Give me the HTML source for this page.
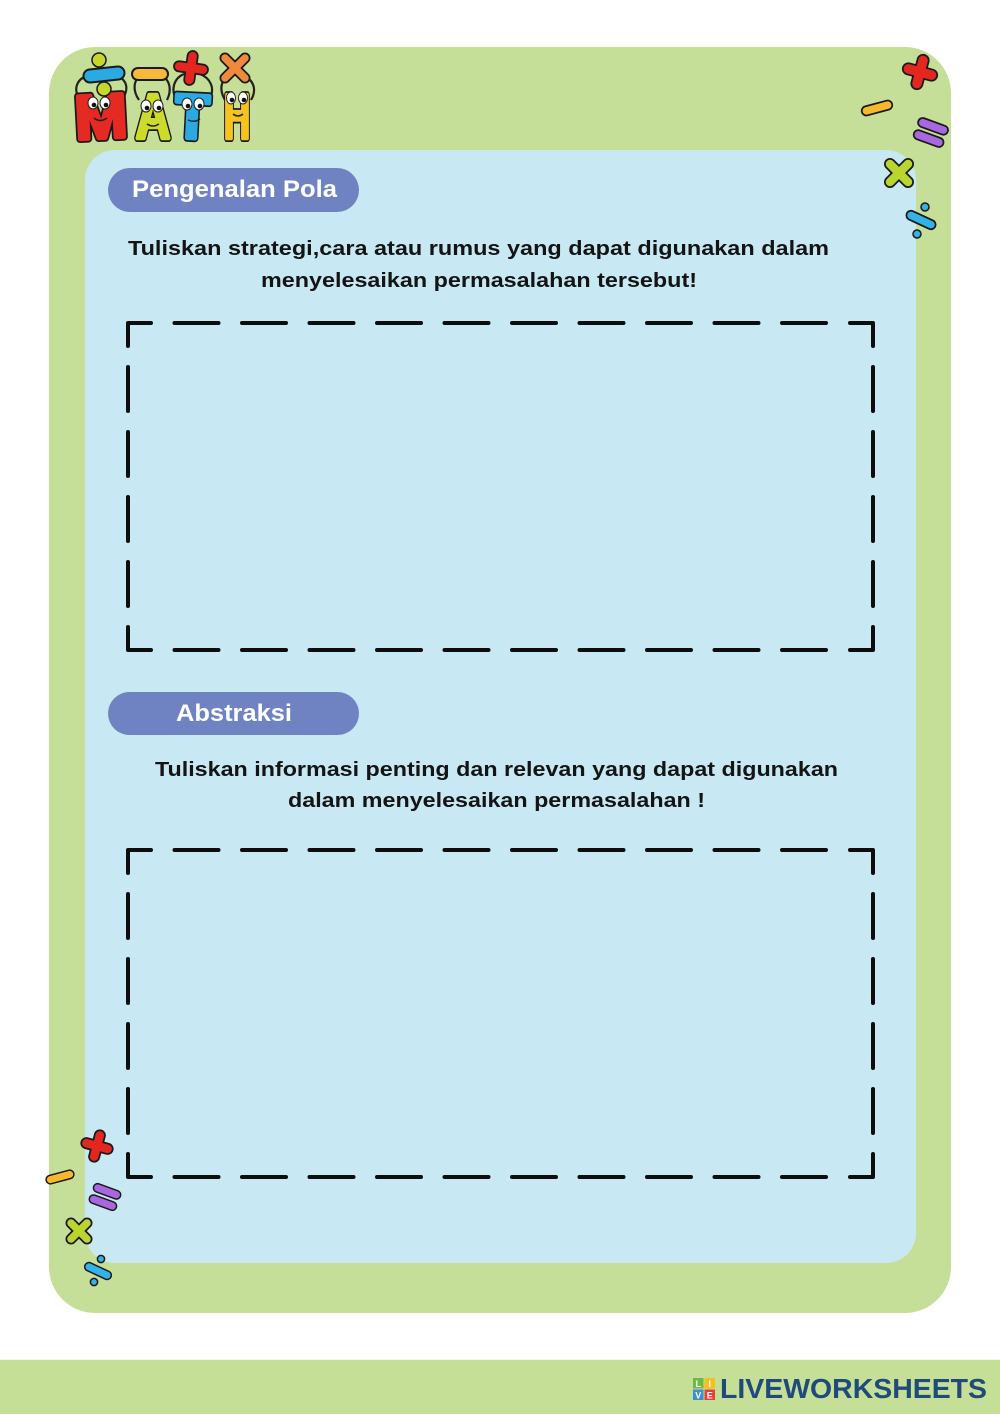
<!DOCTYPE html>
<html>
<head>
<meta charset="utf-8">
<style>
html,body{margin:0;padding:0;background:#fff;}
svg{display:block;}
</style>
</head>
<body>
<svg width="1000" height="1414" viewBox="0 0 1000 1414" xmlns="http://www.w3.org/2000/svg">
  <rect x="0" y="0" width="1000" height="1414" fill="#ffffff"/>
  <!-- outer green card -->
  <rect x="49" y="47" width="902" height="1266" rx="46" ry="46" fill="#c5df98"/>
  <!-- inner blue panel -->
  <rect x="85" y="150" width="831" height="1113" rx="30" ry="30" fill="#c8e9f3"/>

  <!-- pills -->
  <rect x="108" y="168" width="251" height="44" rx="22" ry="22" fill="#6f83c3"/>
  <text x="132" y="197" font-family="Liberation Sans, sans-serif" font-weight="bold" font-size="24" fill="#ffffff" textLength="205" lengthAdjust="spacingAndGlyphs">Pengenalan Pola</text>

  <rect x="108" y="692" width="251" height="43" rx="21.5" ry="21.5" fill="#6f83c3"/>
  <text x="176" y="721" font-family="Liberation Sans, sans-serif" font-weight="bold" font-size="24" fill="#ffffff" textLength="116" lengthAdjust="spacingAndGlyphs">Abstraksi</text>

  <!-- instruction text -->
  <g font-family="Liberation Sans, sans-serif" font-weight="bold" font-size="20" fill="#141414">
    <text x="128" y="255" textLength="701" lengthAdjust="spacingAndGlyphs">Tuliskan strategi,cara atau rumus yang dapat digunakan dalam</text>
    <text x="261" y="287" textLength="436" lengthAdjust="spacingAndGlyphs">menyelesaikan permasalahan tersebut!</text>
    <text x="155" y="776" textLength="683" lengthAdjust="spacingAndGlyphs">Tuliskan informasi penting dan relevan yang dapat digunakan</text>
    <text x="288" y="807" textLength="417" lengthAdjust="spacingAndGlyphs">dalam menyelesaikan permasalahan !</text>
  </g>

  <!-- dashed box 1 -->
  <g stroke="#0d0d0d" stroke-width="4" stroke-linecap="round" stroke-linejoin="round" fill="none">
    <path d="M128,346 L128,323 L151,323"/>
    <path d="M850,323 L873,323 L873,346"/>
    <path d="M128,627 L128,650 L151,650"/>
    <path d="M850,650 L873,650 L873,627"/>
    <line x1="174.5" y1="323" x2="826.5" y2="323" stroke-dasharray="44 23.5"/>
    <line x1="174.5" y1="650" x2="826.5" y2="650" stroke-dasharray="44 23.5"/>
    <line x1="128" y1="367" x2="128" y2="606" stroke-dasharray="44 21"/>
    <line x1="873" y1="367" x2="873" y2="606" stroke-dasharray="44 21"/>
  </g>
  <!-- dashed box 2 -->
  <g stroke="#0d0d0d" stroke-width="4" stroke-linecap="round" stroke-linejoin="round" fill="none" transform="translate(0,527)">
    <path d="M128,346 L128,323 L151,323"/>
    <path d="M850,323 L873,323 L873,346"/>
    <path d="M128,627 L128,650 L151,650"/>
    <path d="M850,650 L873,650 L873,627"/>
    <line x1="174.5" y1="323" x2="826.5" y2="323" stroke-dasharray="44 23.5"/>
    <line x1="174.5" y1="650" x2="826.5" y2="650" stroke-dasharray="44 23.5"/>
    <line x1="128" y1="367" x2="128" y2="606" stroke-dasharray="44 21"/>
    <line x1="873" y1="367" x2="873" y2="606" stroke-dasharray="44 21"/>
  </g>

  <!-- MATH logo -->
  <g>
    <!-- arms -->
    <g stroke="#222" stroke-width="2.2" fill="none">
      <path d="M80,100 C72,88 78,78 88,76"/>
      <path d="M122,100 C130,88 126,80 118,76"/>
      <path d="M139,100 C132,90 134,80 140,76"/>
      <path d="M167,100 C172,90 170,80 162,76"/>
      <path d="M177,100 C170,90 174,78 184,74"/>
      <path d="M209,100 C216,88 210,78 200,74"/>
      <path d="M225,100 C218,88 222,78 230,76"/>
      <path d="M251,100 C258,88 252,78 242,76"/>
    </g>
    <!-- letters: black outline layer -->
    <g font-family="Liberation Sans, sans-serif" font-weight="bold" font-size="62" stroke="#1a1a1a" stroke-width="8" stroke-linejoin="round" fill="#1a1a1a">
      <text x="75" y="138" textLength="52" lengthAdjust="spacingAndGlyphs" transform="rotate(-3 100 118)">M</text>
      <text x="136" y="138" textLength="34" lengthAdjust="spacingAndGlyphs">A</text>
      <text x="175" y="138" textLength="34" lengthAdjust="spacingAndGlyphs" transform="rotate(3 192 118)">T</text>
      <text x="224" y="138" textLength="26" lengthAdjust="spacingAndGlyphs">H</text>
    </g>
    <!-- letters: colour layer -->
    <g font-family="Liberation Sans, sans-serif" font-weight="bold" font-size="62" stroke-width="4.5" stroke-linejoin="round">
      <text x="75" y="138" fill="#e52a24" stroke="#e52a24" textLength="52" lengthAdjust="spacingAndGlyphs" transform="rotate(-3 100 118)">M</text>
      <text x="136" y="138" fill="#cddb2a" stroke="#cddb2a" textLength="34" lengthAdjust="spacingAndGlyphs">A</text>
      <text x="175" y="138" fill="#2aa9e2" stroke="#2aa9e2" textLength="34" lengthAdjust="spacingAndGlyphs" transform="rotate(3 192 118)">T</text>
      <text x="224" y="138" fill="#f6c21e" stroke="#f6c21e" textLength="26" lengthAdjust="spacingAndGlyphs">H</text>
    </g>
    <!-- eyes -->
    <g stroke="#222" stroke-width="1">
      <ellipse cx="93" cy="103" rx="5" ry="6" fill="#fff"/><ellipse cx="105" cy="103" rx="5" ry="6" fill="#fff"/>
      <ellipse cx="146" cy="106" rx="5" ry="6" fill="#fff"/><ellipse cx="158" cy="106" rx="5" ry="6" fill="#fff"/>
      <ellipse cx="187" cy="104" rx="5" ry="6" fill="#fff"/><ellipse cx="199" cy="104" rx="5" ry="6" fill="#fff"/>
      <ellipse cx="231" cy="98" rx="4.5" ry="6" fill="#fff"/><ellipse cx="243" cy="98" rx="4.5" ry="6" fill="#fff"/>
    </g>
    <g fill="#111">
      <circle cx="94" cy="105" r="2.3"/><circle cx="106" cy="105" r="2.3"/>
      <circle cx="147" cy="108" r="2.3"/><circle cx="159" cy="108" r="2.3"/>
      <circle cx="188" cy="106" r="2.3"/><circle cx="200" cy="106" r="2.3"/>
      <circle cx="232" cy="100" r="2.3"/><circle cx="244" cy="100" r="2.3"/>
    </g>
    <!-- mouths -->
    <g stroke="#222" stroke-width="1.5" fill="none">
      <path d="M94,118 Q100,123 107,118"/>
      <path d="M147,124 Q153,128 159,124"/>
      <path d="M188,120 Q194,123 200,119"/>
      <path d="M233,114 Q238,118 243,114"/>
    </g>
    <!-- divide -->
    <line x1="90" y1="76" x2="118" y2="73" stroke="#1a1a1a" stroke-width="15" stroke-linecap="round"/>
    <line x1="90" y1="76" x2="118" y2="73" stroke="#2aa9e2" stroke-width="11" stroke-linecap="round"/>
    <circle cx="99" cy="60" r="7" fill="#c7d62b" stroke="#1a1a1a" stroke-width="1.5"/>
    <circle cx="104" cy="89" r="7" fill="#c7d62b" stroke="#1a1a1a" stroke-width="1.5"/>
    <!-- minus -->
    <line x1="138" y1="74" x2="162" y2="74" stroke="#1a1a1a" stroke-width="14" stroke-linecap="round"/>
    <line x1="138" y1="74" x2="162" y2="74" stroke="#f6b93a" stroke-width="10" stroke-linecap="round"/>
    <!-- plus -->
    <g transform="translate(191,68) rotate(8)">
      <line x1="-12" y1="0" x2="12" y2="0" stroke="#1a1a1a" stroke-width="12" stroke-linecap="round"/>
      <line x1="0" y1="-12" x2="0" y2="12" stroke="#1a1a1a" stroke-width="12" stroke-linecap="round"/>
      <line x1="-12" y1="0" x2="12" y2="0" stroke="#e3261f" stroke-width="8.5" stroke-linecap="round"/>
      <line x1="0" y1="-12" x2="0" y2="12" stroke="#e3261f" stroke-width="8.5" stroke-linecap="round"/>
    </g>
    <!-- times -->
    <g transform="translate(235,68)">
      <line x1="-10" y1="-10" x2="10" y2="10" stroke="#1a1a1a" stroke-width="11" stroke-linecap="round"/>
      <line x1="10" y1="-10" x2="-10" y2="10" stroke="#1a1a1a" stroke-width="11" stroke-linecap="round"/>
      <line x1="-10" y1="-10" x2="10" y2="10" stroke="#f0893c" stroke-width="7.5" stroke-linecap="round"/>
      <line x1="10" y1="-10" x2="-10" y2="10" stroke="#f0893c" stroke-width="7.5" stroke-linecap="round"/>
    </g>
  </g>

  <!-- decorations top-right -->
  <g>
    <g transform="translate(920,72) rotate(15)">
      <line x1="-12" y1="0" x2="12" y2="0" stroke="#1a1a1a" stroke-width="13" stroke-linecap="round"/>
      <line x1="0" y1="-12" x2="0" y2="12" stroke="#1a1a1a" stroke-width="13" stroke-linecap="round"/>
      <line x1="-12" y1="0" x2="12" y2="0" stroke="#e3261f" stroke-width="9.5" stroke-linecap="round"/>
      <line x1="0" y1="-12" x2="0" y2="12" stroke="#e3261f" stroke-width="9.5" stroke-linecap="round"/>
    </g>
    <g transform="translate(877,108) rotate(-15)">
      <line x1="-11" y1="0" x2="11" y2="0" stroke="#1a1a1a" stroke-width="11" stroke-linecap="round"/>
      <line x1="-11" y1="0" x2="11" y2="0" stroke="#f7b82e" stroke-width="7.5" stroke-linecap="round"/>
    </g>
    <g transform="translate(931,132) rotate(20)">
      <line x1="-11" y1="-6" x2="11" y2="-6" stroke="#1a1a1a" stroke-width="11" stroke-linecap="round"/>
      <line x1="-11" y1="7" x2="11" y2="7" stroke="#1a1a1a" stroke-width="11" stroke-linecap="round"/>
      <line x1="-11" y1="-6" x2="11" y2="-6" stroke="#a867e0" stroke-width="7.5" stroke-linecap="round"/>
      <line x1="-11" y1="7" x2="11" y2="7" stroke="#a867e0" stroke-width="7.5" stroke-linecap="round"/>
    </g>
    <g transform="translate(899,173)">
      <line x1="-9" y1="-9" x2="9" y2="9" stroke="#1a1a1a" stroke-width="12" stroke-linecap="round"/>
      <line x1="9" y1="-9" x2="-9" y2="9" stroke="#1a1a1a" stroke-width="12" stroke-linecap="round"/>
      <line x1="-9" y1="-9" x2="9" y2="9" stroke="#b9d52f" stroke-width="8.5" stroke-linecap="round"/>
      <line x1="9" y1="-9" x2="-9" y2="9" stroke="#b9d52f" stroke-width="8.5" stroke-linecap="round"/>
    </g>
    <g transform="translate(921,220) rotate(25)">
      <line x1="-11" y1="0" x2="11" y2="0" stroke="#1a1a1a" stroke-width="11" stroke-linecap="round"/>
      <line x1="-11" y1="0" x2="11" y2="0" stroke="#33b2e8" stroke-width="7.5" stroke-linecap="round"/>
    </g>
    <circle cx="925" cy="207" r="4" fill="#33b2e8" stroke="#1a1a1a" stroke-width="1.5"/>
    <circle cx="917" cy="234" r="4" fill="#33b2e8" stroke="#1a1a1a" stroke-width="1.5"/>
  </g>

  <!-- decorations bottom-left -->
  <g>
    <g transform="translate(97,1146) rotate(15)">
      <line x1="-11" y1="0" x2="11" y2="0" stroke="#1a1a1a" stroke-width="12" stroke-linecap="round"/>
      <line x1="0" y1="-11" x2="0" y2="11" stroke="#1a1a1a" stroke-width="12" stroke-linecap="round"/>
      <line x1="-11" y1="0" x2="11" y2="0" stroke="#e3261f" stroke-width="8.5" stroke-linecap="round"/>
      <line x1="0" y1="-11" x2="0" y2="11" stroke="#e3261f" stroke-width="8.5" stroke-linecap="round"/>
    </g>
    <g transform="translate(60,1177) rotate(-15)">
      <line x1="-10" y1="0" x2="10" y2="0" stroke="#1a1a1a" stroke-width="10" stroke-linecap="round"/>
      <line x1="-10" y1="0" x2="10" y2="0" stroke="#f7b82e" stroke-width="7" stroke-linecap="round"/>
    </g>
    <g transform="translate(105,1197) rotate(20)">
      <line x1="-10" y1="-6" x2="10" y2="-6" stroke="#1a1a1a" stroke-width="10" stroke-linecap="round"/>
      <line x1="-10" y1="6" x2="10" y2="6" stroke="#1a1a1a" stroke-width="10" stroke-linecap="round"/>
      <line x1="-10" y1="-6" x2="10" y2="-6" stroke="#a867e0" stroke-width="7" stroke-linecap="round"/>
      <line x1="-10" y1="6" x2="10" y2="6" stroke="#a867e0" stroke-width="7" stroke-linecap="round"/>
    </g>
    <g transform="translate(79,1231)">
      <line x1="-8" y1="-8" x2="8" y2="8" stroke="#1a1a1a" stroke-width="11" stroke-linecap="round"/>
      <line x1="8" y1="-8" x2="-8" y2="8" stroke="#1a1a1a" stroke-width="11" stroke-linecap="round"/>
      <line x1="-8" y1="-8" x2="8" y2="8" stroke="#b9d52f" stroke-width="7.5" stroke-linecap="round"/>
      <line x1="8" y1="-8" x2="-8" y2="8" stroke="#b9d52f" stroke-width="7.5" stroke-linecap="round"/>
    </g>
    <g transform="translate(98,1271) rotate(25)">
      <line x1="-10" y1="0" x2="10" y2="0" stroke="#1a1a1a" stroke-width="10" stroke-linecap="round"/>
      <line x1="-10" y1="0" x2="10" y2="0" stroke="#33b2e8" stroke-width="7" stroke-linecap="round"/>
    </g>
    <circle cx="101" cy="1259" r="3.6" fill="#33b2e8" stroke="#1a1a1a" stroke-width="1.5"/>
    <circle cx="94" cy="1282" r="3.6" fill="#33b2e8" stroke="#1a1a1a" stroke-width="1.5"/>
  </g>

  <!-- footer -->
  <rect x="0" y="1359" width="1000" height="1" fill="#f3f6e6"/>
  <rect x="0" y="1360" width="1000" height="54" fill="#c5df96"/>
  <g>
    <rect x="693" y="1378" width="10.5" height="10.5" fill="#6dbb45"/>
    <rect x="704.5" y="1378" width="10.5" height="10.5" fill="#f4c01d"/>
    <rect x="693" y="1389.5" width="10.5" height="10.5" fill="#3b8fd6"/>
    <rect x="704.5" y="1389.5" width="10.5" height="10.5" fill="#e5403a"/>
    <g font-family="Liberation Sans, sans-serif" font-weight="bold" font-size="9" fill="#fff" text-anchor="middle">
      <text x="698.2" y="1387">L</text>
      <text x="709.7" y="1387">I</text>
      <text x="698.2" y="1398.5">V</text>
      <text x="709.7" y="1398.5">E</text>
    </g>
    <text x="720" y="1398" font-family="Liberation Sans, sans-serif" font-weight="bold" font-size="28" fill="#1f4a7c" textLength="267" lengthAdjust="spacingAndGlyphs">LIVEWORKSHEETS</text>
  </g>
</svg>
</body>
</html>
